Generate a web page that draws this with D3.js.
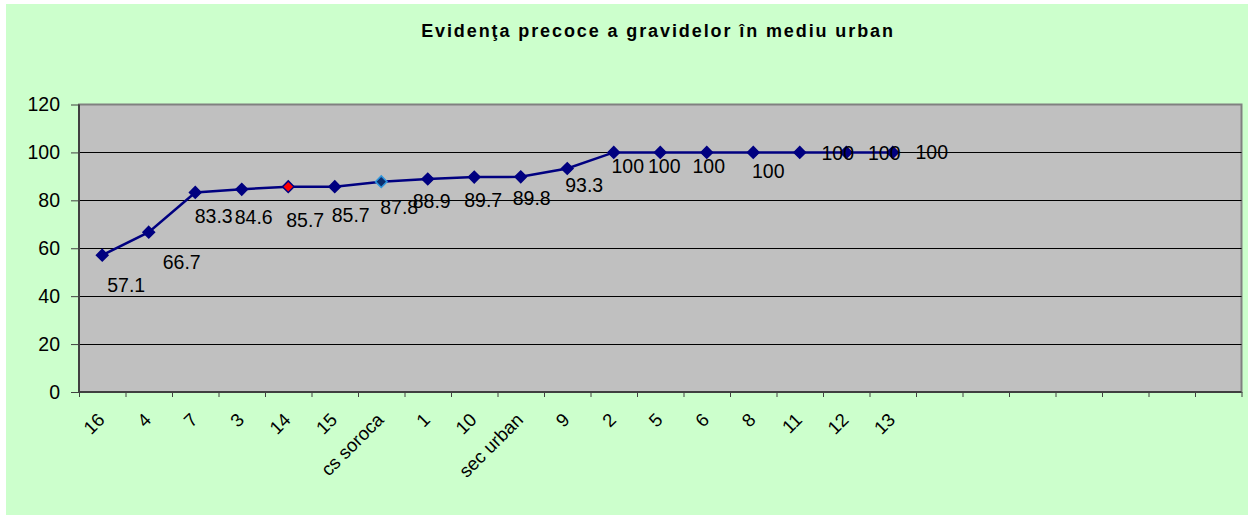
<!DOCTYPE html>
<html>
<head>
<meta charset="utf-8">
<script src="https://cdn.jsdelivr.net/npm/d3@7"></script>
<style>
  body { margin: 0; background: #ffffff; }
  svg { display: block; font-family: "Liberation Sans", Arial, sans-serif; }
</style>
</head>
<body>
<div id="vis"></div>
<script>

// chart data
const TITLE = "Evidenţa precoce a gravidelor în mediu urban";
const CATEGORIES = ["16", "4", "7", "3", "14", "15", "cs soroca", "1", "10", "sec urban",
                    "9", "2", "5", "6", "8", "11", "12", "13"];
const VALUES = [57.1, 66.7, 83.3, 84.6, 85.7, 85.7, 87.8, 88.9, 89.7, 89.8,
                93.3, 100, 100, 100, 100, 100, 100, 100];
const Y_TICKS = [0, 20, 40, 60, 80, 100, 120];

// the category axis has room for 25 slots, only the first 18 are filled
const SLOT_COUNT = 25;

// hand placed label offsets (dx, dy) as in the original
const LABEL_NUDGE = [[24, 30], [33, 30], [18.5, 23.6], [12, 27.5], [17, 33], [16, 28.5],
                     [18, 25.5], [4, 22], [9, 23], [11, 21.5], [17, 17], [14, 13.5],
                     [4, 13.5], [2, 13.5], [15, 18.5], [38, 1], [38, 1], [39, 0]];

// special marker colours
const MARKER_STYLE = {
  "14": {fill: "#ff0000", stroke: "#000080"},
  "cs soroca": {fill: "#0b2d6e", stroke: "#2f95dc"}
};

// frame constants
const FRAME_WIDTH = 1259;
const FRAME_HEIGHT = 516;
const PLOT = {left: 79, right: 1241.5, top: 104.5, bottom: 392};

const SVG = d3.select("#vis")
              .append("svg")
                .attr("width", FRAME_WIDTH)
                .attr("height", FRAME_HEIGHT);

// green chart area
SVG.append("rect")
    .attr("x", 6)
    .attr("y", 4)
    .attr("width", 1242)
    .attr("height", 511)
    .attr("fill", "#ccffcc");

// scales
const X_SCALE = d3.scaleLinear()
                  .domain([0, SLOT_COUNT])
                  .range([PLOT.left, PLOT.right]);
const Y_SCALE = d3.scaleLinear()
                  .domain([0, 120])
                  .range([PLOT.bottom, PLOT.top]);

// grey plot area
SVG.append("rect")
    .attr("x", PLOT.left)
    .attr("y", PLOT.top)
    .attr("width", PLOT.right - PLOT.left)
    .attr("height", PLOT.bottom - PLOT.top)
    .attr("fill", "#c0c0c0")
    .attr("stroke", "#808080")
    .attr("stroke-width", 2);

// gridlines
SVG.selectAll(".grid")
    .data(Y_TICKS.filter((d) => { return d > 0 && d < 120; }))
    .enter()
    .append("line")
      .attr("x1", PLOT.left)
      .attr("x2", PLOT.right)
      .attr("y1", (d) => { return Math.round(Y_SCALE(d)) + 0.5; })
      .attr("y2", (d) => { return Math.round(Y_SCALE(d)) + 0.5; })
      .attr("stroke", "#000000")
      .attr("stroke-width", 1);

// y axis
const Y_AXIS = SVG.append("g")
    .attr("transform", "translate(" + PLOT.left + ",0)")
    .call(d3.axisLeft(Y_SCALE).tickValues(Y_TICKS).tickSize(8).tickPadding(11));
Y_AXIS.select(".domain").remove();
Y_AXIS.selectAll("line").attr("stroke", "#404040");
Y_AXIS.selectAll("text")
    .attr("font-size", "19.5px")
    .attr("fill", "#000000")
    .attr("font-family", "Liberation Sans, Arial, sans-serif");

// x axis tick marks on slot edges
const X_TICKS = SVG.append("g")
    .attr("transform", "translate(0," + PLOT.bottom + ")")
    .call(d3.axisBottom(X_SCALE).tickValues(d3.range(SLOT_COUNT + 1))
            .tickSize(5).tickFormat(""));
X_TICKS.select(".domain").remove();
X_TICKS.selectAll("line").attr("stroke", "#404040");

// x axis category labels
const X_LABELS = SVG.append("g")
    .attr("transform", "translate(0," + PLOT.bottom + ")")
    .call(d3.axisBottom(X_SCALE).tickValues(d3.range(CATEGORIES.length).map((i) => { return i + 0.5; }))
            .tickSize(0).tickFormat((d) => { return CATEGORIES[Math.floor(d)]; }));
X_LABELS.select(".domain").remove();
X_LABELS.selectAll("text")
    .attr("font-size", "18.5px")
    .attr("fill", "#000000")
    .attr("font-family", "Liberation Sans, Arial, sans-serif")
    .attr("text-anchor", "end")
    .attr("x", 0)
    .attr("y", 0)
    .attr("dy", 0)
    .attr("transform", "translate(3,29) rotate(-45)");

// axis lines
SVG.append("line")
    .attr("x1", PLOT.left).attr("x2", PLOT.left)
    .attr("y1", PLOT.top).attr("y2", PLOT.bottom)
    .attr("stroke", "#404040")
    .attr("stroke-width", 2);
SVG.append("line")
    .attr("x1", PLOT.left).attr("x2", PLOT.right)
    .attr("y1", PLOT.bottom).attr("y2", PLOT.bottom)
    .attr("stroke", "#404040")
    .attr("stroke-width", 2);

// series line
const line = d3.line()
    .x((d, i) => { return X_SCALE(i + 0.5); })
    .y((d) => { return Y_SCALE(d); });

SVG.append("path")
    .datum(VALUES)
    .attr("d", line)
    .attr("fill", "none")
    .attr("stroke", "#000080")
    .attr("stroke-width", 2.5);

// diamond markers
const diamond = d3.symbol().type(d3.symbolDiamond2).size(85);

SVG.selectAll(".point")
    .data(VALUES)
    .enter()
    .append("path")
      .attr("class", "point")
      .attr("d", diamond)
      .attr("transform", (d, i) => { return "translate(" + X_SCALE(i + 0.5) + "," + Y_SCALE(d) + ")"; })
      .attr("fill", (d, i) => { return MARKER_STYLE[CATEGORIES[i]] ? MARKER_STYLE[CATEGORIES[i]].fill : "#000080"; })
      .attr("stroke", (d, i) => { return MARKER_STYLE[CATEGORIES[i]] ? MARKER_STYLE[CATEGORIES[i]].stroke : "#000080"; })
      .attr("stroke-width", 1.5);

// data labels
SVG.selectAll(".value-label")
    .data(VALUES)
    .enter()
    .append("text")
      .attr("class", "value-label")
      .attr("x", (d, i) => { return X_SCALE(i + 0.5) + LABEL_NUDGE[i][0]; })
      .attr("y", (d, i) => { return Y_SCALE(d) + LABEL_NUDGE[i][1]; })
      .attr("dy", "0.36em")
      .attr("text-anchor", "middle")
      .attr("font-size", "19.5px")
      .attr("fill", "#000000")
      .text((d) => { return d; });

// title
SVG.append("text")
    .attr("x", 658)
    .attr("y", 37)
    .attr("text-anchor", "middle")
    .attr("font-size", "18px")
    .attr("font-weight", "bold")
    .attr("letter-spacing", "1.9px")
    .attr("fill", "#000000")
    .text(TITLE);

</script>
</body>
</html>
